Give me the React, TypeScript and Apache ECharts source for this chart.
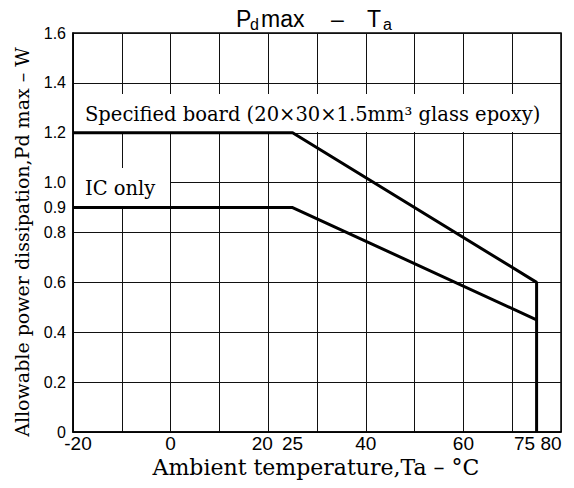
import React, { useEffect, useRef } from "react";
import * as echarts from "echarts";

const xTickLabels = [-20, 0, 20, 25, 40, 60, 75, 80];
const yTickValues = [0, 0.2, 0.4, 0.6, 0.8, 1.0, 1.2, 1.4, 1.6];
const yExtraTick = [0.9];
const boardCurve: [number, number][] = [
  [-20, 1.2],
  [25, 1.2],
  [75, 0.6],
  [75, 0],
];
const icOnlyCurve: [number, number][] = [
  [-20, 0.9],
  [25, 0.9],
  [75, 0.45],
];
const boardLabel = "Specified board (20×30×1.5mm³ glass epoxy)";
const icLabel = "IC only";
const xName = "Ambient temperature,Ta – °C";
const yName = "Allowable power dissipation,Pd max – W";

const SERIF = "'DejaVu Serif', serif";
const SANS = "'Liberation Sans', Arial, sans-serif";

export default function App() {
  const ref = useRef<HTMLDivElement>(null);
  useEffect(() => {
    if (!ref.current) return;
    const chart = echarts.init(ref.current, undefined, { renderer: "svg" });
    const near = (a: number, b: number) => Math.abs(a - b) < 1e-6;
    const xShift: Record<string, number[]> = {
      "-20": [0, 0, 0, 10],
      "20": [0, 12, 0, 0],
      "25": [0, 0, 0, 0],
      "75": [0, 24, 0, 0],
      "80": [0, 20, 0, 0],
    };
    const rich: Record<string, any> = {};
    xTickLabels.forEach((v, i) => {
      rich["t" + i] = {
        fontFamily: SANS,
        fontSize: 19,
        color: "#000",
        padding: xShift[String(v)] || [0, 0, 0, 0],
      };
    });
    const axisCommon = {
      min: 0,
      max: 1.6,
      type: "value" as const,
      position: "left" as const,
    };
    chart.setOption({
      animation: false,
      backgroundColor: "#fff",
      grid: {
        left: 73,
        right: 13,
        top: 33,
        bottom: 56,
        show: true,
        borderColor: "#000",
        borderWidth: 1.5,
        backgroundColor: "transparent",
      },
      xAxis: [
        {
          type: "value",
          min: -20,
          max: 80,
          interval: 10,
          position: "bottom",
          axisLine: { show: true, onZero: false, lineStyle: { color: "#000", width: 1.5 } },
          axisTick: { show: false },
          axisLabel: { show: false },
          splitLine: { show: true, lineStyle: { color: "#111", width: 1 } },
        },
        {
          type: "value",
          min: -20,
          max: 80,
          interval: 5,
          position: "bottom",
          axisLine: { show: false, onZero: false },
          axisTick: { show: false },
          splitLine: { show: false },
          axisLabel: {
            show: true,
            margin: 2,
            formatter: (v: number) => {
              const i = xTickLabels.findIndex((t) => near(t, v));
              return i >= 0 ? `{t${i}|${xTickLabels[i]}}` : "";
            },
            rich,
          },
        },
      ],
      yAxis: [
        {
          ...axisCommon,
          interval: 0.2,
          axisLine: { show: true, onZero: false, lineStyle: { color: "#000", width: 1.5 } },
          axisTick: { show: false },
          splitLine: { show: true, lineStyle: { color: "#111", width: 1 } },
          axisLabel: {
            margin: 7,
            fontFamily: SANS,
            fontSize: 16,
            color: "#000",
            formatter: (v: number) => {
              const t = yTickValues.find((y) => near(y, v));
              if (t === undefined) return "";
              return t === 0 ? "0" : t.toFixed(1);
            },
          },
        },
        {
          ...axisCommon,
          interval: 0.1,
          axisLine: { show: false, onZero: false },
          axisTick: { show: false },
          splitLine: { show: false },
          axisLabel: {
            margin: 7,
            fontFamily: SANS,
            fontSize: 16,
            color: "#000",
            formatter: (v: number) =>
              yExtraTick.some((y) => near(y, v)) ? v.toFixed(1) : "",
          },
        },
      ],
      series: [
        {
          type: "line",
          data: boardCurve,
          symbol: "none",
          z: 10,
          lineStyle: { color: "#000", width: 3 },
        },
        {
          type: "line",
          data: icOnlyCurve,
          symbol: "none",
          z: 10,
          lineStyle: { color: "#000", width: 3 },
        },
      ],
      graphic: [
        {
          type: "rect",
          z: 5,
          shape: { x: 74, y: 94, width: 486, height: 38 },
          style: { fill: "#fff" },
        },
        {
          type: "rect",
          z: 5,
          shape: { x: 74, y: 168, width: 96, height: 38 },
          style: { fill: "#fff" },
        },
        {
          type: "text",
          z: 6,
          x: 85,
          y: 114,
          style: {
            text: boardLabel,
            font: `19.5px ${SERIF}`,
            fill: "#000",
            textAlign: "left",
            textVerticalAlign: "middle",
          },
        },
        {
          type: "text",
          z: 6,
          x: 85,
          y: 188,
          style: {
            text: icLabel,
            font: `19.5px ${SERIF}`,
            fill: "#000",
            textAlign: "left",
            textVerticalAlign: "middle",
          },
        },
        {
          type: "text",
          z: 6,
          x: 316,
          y: 467,
          style: {
            text: xName,
            font: `22px ${SERIF}`,
            fill: "#000",
            textAlign: "center",
            textVerticalAlign: "middle",
          },
        },
        {
          type: "text",
          z: 6,
          x: 22,
          y: 242,
          rotation: Math.PI / 2,
          style: {
            text: yName,
            font: `19px ${SERIF}`,
            fill: "#000",
            textAlign: "center",
            textVerticalAlign: "middle",
          },
        },
        {
          type: "text",
          z: 6,
          x: 236,
          y: 19,
          style: { text: "P", font: `23px ${SANS}`, fill: "#000", textVerticalAlign: "middle" },
        },
        {
          type: "text",
          z: 6,
          x: 250,
          y: 24,
          style: { text: "d", font: `16px ${SANS}`, fill: "#000", textVerticalAlign: "middle" },
        },
        {
          type: "text",
          z: 6,
          x: 261,
          y: 19,
          style: { text: "max", font: `23px ${SANS}`, fill: "#000", textVerticalAlign: "middle" },
        },
        {
          type: "text",
          z: 6,
          x: 331,
          y: 19,
          style: { text: "–", font: `23px ${SANS}`, fill: "#000", textVerticalAlign: "middle" },
        },
        {
          type: "text",
          z: 6,
          x: 367,
          y: 19,
          style: { text: "T", font: `23px ${SANS}`, fill: "#000", textVerticalAlign: "middle" },
        },
        {
          type: "text",
          z: 6,
          x: 383,
          y: 24,
          style: { text: "a", font: `16px ${SANS}`, fill: "#000", textVerticalAlign: "middle" },
        },
      ],
    });
    return () => chart.dispose();
  }, []);
  return (
    <div
      ref={ref}
      style={{ position: "fixed", left: 0, top: 0, width: 574, height: 488 }}
    />
  );
}
